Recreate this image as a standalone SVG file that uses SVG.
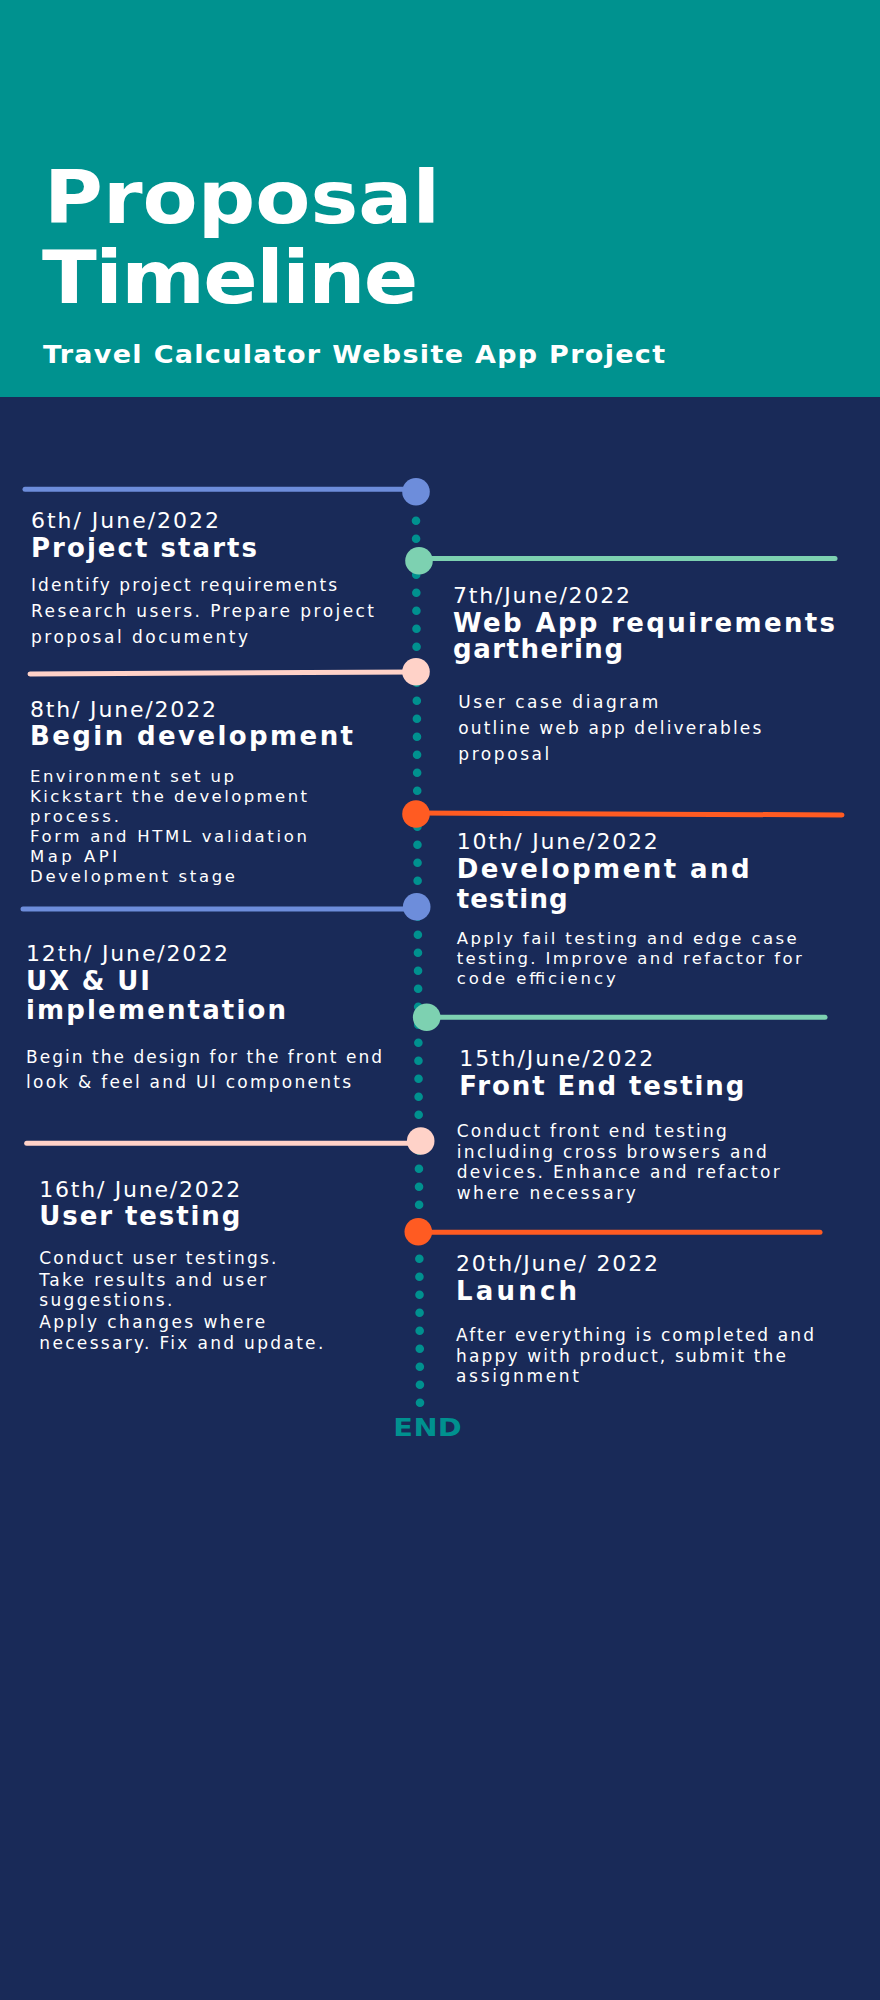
<svg xmlns="http://www.w3.org/2000/svg" width="880" height="2000" viewBox="0 0 880 2000">
  <style>
    .t { font-family: "DejaVu Sans", "Liberation Sans", sans-serif; fill: #ffffff; }
    .big { font-size: 73px; font-weight: bold; }
    .sub { font-size: 25px; font-weight: bold; }
    .date { font-size: 22px; }
    .head { font-size: 26px; font-weight: bold; }
    .body { font-size: 17px; }
    .body2 { font-size: 16.5px; }
    .end { font-family: "DejaVu Sans", "Liberation Sans", sans-serif; font-size: 24px; font-weight: bold; fill: #00918f; }
    .arm { stroke-width: 5; stroke-linecap: round; fill: none; }
    .blueF { fill: #6d8ddb; } .blue { stroke: #6d8ddb; }
    .greenF { fill: #7dd1b1; } .green { stroke: #7dd1b1; }
    .pinkF { fill: #ffd2c8; } .pink { stroke: #ffd2c8; }
    .orangeF { fill: #ff5b22; } .orange { stroke: #ff5b22; }
  </style>

  <!-- backgrounds -->
  <rect x="0" y="0" width="880" height="2000" fill="#192a58"/>
  <rect x="0" y="0" width="880" height="397" fill="#00928f"/>

  <!-- title block, widened a little horizontally -->
  <g id="header">
    <text class="t big" transform="scale(1.1,1)" x="40" y="223" textLength="360">Proposal</text>
    <text class="t big" transform="scale(1.1,1)" x="38.2" y="303" textLength="342">Timeline</text>
    <text class="t sub" transform="scale(1.08,1)" x="39.8" y="363" textLength="576">Travel Calculator Website App Project</text>
  </g>

  <!-- connectors: dotted spine and milestone arms -->
  <g id="connectors">
    <line x1="416" y1="520.7" x2="420" y2="1402.7" stroke="#00918f" stroke-width="8.6" stroke-linecap="round" stroke-dasharray="0 18"/>
    <line class="arm blue" x1="25" y1="489.3" x2="416" y2="489.3"/>
    <line class="arm green" x1="419" y1="558.6" x2="835" y2="558.6"/>
    <line class="arm pink" x1="30" y1="674" x2="416" y2="672"/>
    <line class="arm orange" x1="416" y1="813" x2="842" y2="815"/>
    <line class="arm blue" x1="23" y1="909" x2="416" y2="909"/>
    <line class="arm green" x1="426" y1="1017.3" x2="825" y2="1017.3"/>
    <line class="arm pink" x1="26.7" y1="1143.3" x2="420" y2="1143.3"/>
    <line class="arm orange" x1="418" y1="1232.3" x2="820" y2="1232.3"/>
  </g>

  <g id="m1">
    <circle class="blueF" cx="416" cy="491.7" r="13.8"/>
    <text class="t date" x="31" y="527.7" textLength="188">6th/ June/2022</text>
    <text class="t head" x="31" y="556.7" textLength="226">Project starts</text>
    <text class="t body" x="31" y="590.7" textLength="306">Identify project requirements</text>
    <text class="t body" x="31" y="616.7" textLength="343">Research users. Prepare project</text>
    <text class="t body" x="31" y="642.7" textLength="217">proposal documenty</text>
  </g>

  <g id="m2">
    <circle class="greenF" cx="419" cy="560.7" r="13.8"/>
    <text class="t date" x="453" y="602.7" textLength="177">7th/June/2022</text>
    <text class="t head" x="453" y="631.7" textLength="382">Web App requirements</text>
    <text class="t head" x="453" y="658.3" textLength="170">garthering</text>
    <text class="t body" x="458.3" y="708.3" textLength="200">User case diagram</text>
    <text class="t body" x="458.3" y="734.3" textLength="303">outline web app deliverables</text>
    <text class="t body" x="458.3" y="760" textLength="91">proposal</text>
  </g>

  <g id="m3">
    <circle class="pinkF" cx="416" cy="671.7" r="13.8"/>
    <text class="t date" x="30" y="716.7" textLength="186">8th/ June/2022</text>
    <text class="t head" x="30" y="745" textLength="323">Begin development</text>
    <text class="t body2" x="30" y="781.7" textLength="204">Environment set up</text>
    <text class="t body2" x="30" y="801.7" textLength="277">Kickstart the development</text>
    <text class="t body2" x="30" y="821.7" textLength="89">process.</text>
    <text class="t body2" x="30" y="841.7" textLength="277">Form and HTML validation</text>
    <text class="t body2" x="30" y="861.7" textLength="87">Map API</text>
    <text class="t body2" x="30" y="881.7" textLength="205">Development stage</text>
  </g>

  <g id="m4">
    <circle class="orangeF" cx="416" cy="814" r="13.8"/>
    <text class="t date" x="456.7" y="849.3" textLength="201">10th/ June/2022</text>
    <text class="t head" x="456.7" y="878.3" textLength="293">Development and</text>
    <text class="t head" x="456.7" y="908.3" textLength="111">testing</text>
    <text class="t body2" x="456.7" y="944.3" textLength="340">Apply fail testing and edge case</text>
    <text class="t body2" x="456.7" y="964.3" textLength="345">testing. Improve and refactor for</text>
    <text class="t body2" x="456.7" y="984.3" textLength="159">code efficiency</text>
  </g>

  <g id="m5">
    <circle class="blueF" cx="416.7" cy="906.7" r="13.8"/>
    <text class="t date" x="26" y="961" textLength="202">12th/ June/2022</text>
    <text class="t head" x="26" y="990" textLength="124">UX &amp; UI</text>
    <text class="t head" x="26" y="1019.3" textLength="260">implementation</text>
    <text class="t body" x="26" y="1062.7" textLength="356">Begin the design for the front end</text>
    <text class="t body" x="26" y="1088.3" textLength="325">look &amp; feel and UI components</text>
  </g>

  <g id="m6">
    <circle class="greenF" cx="426.7" cy="1017.3" r="13.8"/>
    <text class="t date" x="459.3" y="1066" textLength="194">15th/June/2022</text>
    <text class="t head" x="459.3" y="1095" textLength="285">Front End testing</text>
    <text class="t body" x="456.7" y="1136.7" textLength="270">Conduct front end testing</text>
    <text class="t body" x="456.7" y="1157.7" textLength="310">including cross browsers and</text>
    <text class="t body" x="456.7" y="1178.3" textLength="323">devices. Enhance and refactor</text>
    <text class="t body" x="456.7" y="1199" textLength="179">where necessary</text>
  </g>

  <g id="m7">
    <circle class="pinkF" cx="420.7" cy="1141" r="13.8"/>
    <text class="t date" x="39.3" y="1197.3" textLength="201">16th/ June/2022</text>
    <text class="t head" x="39.3" y="1225" textLength="201">User testing</text>
    <text class="t body" x="39.3" y="1264.3" textLength="237">Conduct user testings.</text>
    <text class="t body" x="39.3" y="1285.7" textLength="227">Take results and user</text>
    <text class="t body" x="39.3" y="1305.7" textLength="133">suggestions.</text>
    <text class="t body" x="39.3" y="1327.7" textLength="226">Apply changes where</text>
    <text class="t body" x="39.3" y="1349" textLength="284">necessary. Fix and update.</text>
  </g>

  <g id="m8">
    <circle class="orangeF" cx="418.3" cy="1231.7" r="13.8"/>
    <text class="t date" x="456" y="1270.7" textLength="202">20th/June/ 2022</text>
    <text class="t head" x="456" y="1300" textLength="121">Launch</text>
    <text class="t body" x="456" y="1341" textLength="358">After everything is completed and</text>
    <text class="t body" x="456" y="1361.7" textLength="330">happy with product, submit the</text>
    <text class="t body" x="456" y="1382.3" textLength="123">assignment</text>
  </g>

  <g id="end">
    <text class="end" transform="scale(1.2,1)" x="327.8" y="1436" textLength="57">END</text>
  </g>
</svg>
